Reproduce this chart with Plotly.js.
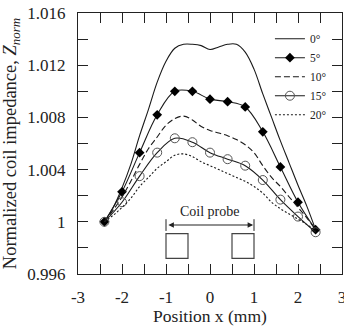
<!DOCTYPE html>
<html>
<head>
<meta charset="utf-8">
<script src="https://cdn.plot.ly/plotly-3.0.1.min.js"></script>
<style>html,body{margin:0;padding:0;background:#fff;}#chart{width:344px;height:326px;}</style>
</head>
<body>
<div id="chart"></div>
<script>
// Fine grid (step 0.2 mm) for curves without markers
var xFine = [-2.4,-2.2,-2.0,-1.8,-1.6,-1.4,-1.2,-1.0,-0.8,-0.6,-0.4,-0.2,0,0.2,0.4,0.6,0.8,1.0,1.2,1.4,1.6,1.8,2.0,2.2,2.4];
// Marker grid (step 0.4 mm)
var xMark = [-2.4,-2.0,-1.6,-1.2,-0.8,-0.4,0,0.4,0.8,1.2,1.6,2.0,2.4];

var z0  = [1.0000,1.0011,1.0026,1.0044,1.0066,1.0086,1.0107,1.0123,1.0133,1.0136,1.0136,1.0135,1.0132,1.0134,1.0136,1.0136,1.0130,1.0117,1.0098,1.0080,1.0062,1.0045,1.0028,1.0012,0.9994];
var z5  = [1.0000,1.0023,1.0053,1.0082,1.0100,1.0100,1.0094,1.0092,1.0088,1.0069,1.0042,1.0015,0.9994];
var z10 = [1.0000,1.0009,1.0019,1.0031,1.0044,1.0056,1.0065,1.0074,1.0079,1.0081,1.0078,1.0073,1.0070,1.0068,1.0066,1.0063,1.0059,1.0053,1.0043,1.0034,1.0027,1.0019,1.0011,1.0003,0.9994];
var z15 = [1.0000,1.0015,1.0035,1.0053,1.0064,1.0061,1.0053,1.0048,1.0043,1.0032,1.0017,1.0004,0.9992];
var z20 = [1.0000,1.0005,1.0011,1.0018,1.0027,1.0034,1.0041,1.0046,1.0051,1.0052,1.0050,1.0046,1.0043,1.0040,1.0037,1.0034,1.0031,1.0027,1.0022,1.0015,1.0010,1.0006,1.0002,0.9998,0.9993];

var names = ['0°','5°','10°','15°','20°'];

var xTickVals = [-3,-2.5,-2,-1.5,-1,-0.5,0,0.5,1,1.5,2,2.5,3];
var xTickText = ['-3','','-2','','-1','','0','','1','','2','','3'];
var yTickVals = [0.996,0.998,1,1.002,1.004,1.006,1.008,1.010,1.012,1.014,1.016];
var yTickText = ['0.996','','1','','1.004','','1.008','','1.012','','1.016'];

var serif = 'Liberation Serif, Times New Roman, serif';
var lineCol = '#1a1a1a';

var traces = [
  {x:xFine, y:z0, name:names[0], mode:'lines', line:{color:lineCol,width:1.1,shape:'spline',smoothing:1}},
  {x:xMark, y:z5, name:names[1], mode:'lines+markers', line:{color:lineCol,width:1.1,shape:'spline',smoothing:1},
   marker:{symbol:'diamond',size:7.5,color:'#000'}},
  {x:xFine, y:z10, name:names[2], mode:'lines', line:{color:lineCol,width:1.1,dash:'6px,3px',shape:'spline',smoothing:1}},
  {x:xMark, y:z15, name:names[3], mode:'lines+markers', line:{color:lineCol,width:1.1,shape:'spline',smoothing:1},
   marker:{symbol:'circle-open',size:9,color:'#555',line:{width:1}}},
  {x:xFine, y:z20, name:names[4], mode:'lines', line:{color:lineCol,width:1.1,dash:'2px,2px',shape:'spline',smoothing:1}}
];

var layout = {
  width:344, height:326,
  margin:{l:78,r:2,t:13,b:52},
  paper_bgcolor:'#fff', plot_bgcolor:'#fff',
  font:{family:serif,size:17,color:'#222'},
  showlegend:true,
  legend:{x:0.727,y:0.957,xanchor:'left',yanchor:'top',bgcolor:'rgba(0,0,0,0)',
          font:{family:serif,size:11.5,color:'#222'},tracegroupgap:0},
  xaxis:{range:[-3,3],tickmode:'array',tickvals:xTickVals,ticktext:xTickText,
         ticks:'inside',ticklen:10,tickcolor:'#222',showline:true,linecolor:'#222',linewidth:1,mirror:'ticks',
         showgrid:false,zeroline:false,ticklabelstandoff:8,ticklabeloverflow:'allow',
         title:{text:'Position x (mm)',font:{family:serif,size:17.5},standoff:4}},
  yaxis:{range:[0.996,1.016],tickmode:'array',tickvals:yTickVals,ticktext:yTickText,
         ticks:'inside',ticklen:10,tickcolor:'#222',showline:true,linecolor:'#222',linewidth:1,mirror:'ticks',
         showgrid:false,zeroline:false,ticklabelstandoff:8,ticklabeloverflow:'allow',
         title:{text:'Normalized coil impedance, <i>Z</i><sub><i>norm</i></sub>',font:{family:serif,size:18.5},standoff:5}},
  shapes:[
    {type:'rect',xref:'x',yref:'y',x0:-1,x1:-0.5,y0:0.9972,y1:0.9991,line:{color:'#444',width:1.2}},
    {type:'rect',xref:'x',yref:'y',x0:0.5,x1:1,y0:0.9972,y1:0.9991,line:{color:'#444',width:1.2}},
    {type:'line',xref:'x',yref:'y',x0:-1,x1:-1,y0:0.9993,y1:1.0002,line:{color:'#222',width:1}},
    {type:'line',xref:'x',yref:'y',x0:1,x1:1,y0:0.9993,y1:1.0002,line:{color:'#222',width:1}}
  ],
  annotations:[
    {x:0.98,y:0.99975,ax:-0.98,ay:0.99975,xref:'x',yref:'y',axref:'x',ayref:'y',showarrow:true,
     arrowhead:2,arrowsize:1,arrowwidth:1.1,arrowcolor:'#222',arrowside:'end+start',text:''},
    {x:0,y:1.0008,xref:'x',yref:'y',showarrow:false,text:'Coil probe',font:{family:serif,size:14,color:'#222'}}
  ]
};

Plotly.newPlot('chart', traces, layout, {displayModeBar:false, staticPlot:true});
</script>
</body>
</html>
